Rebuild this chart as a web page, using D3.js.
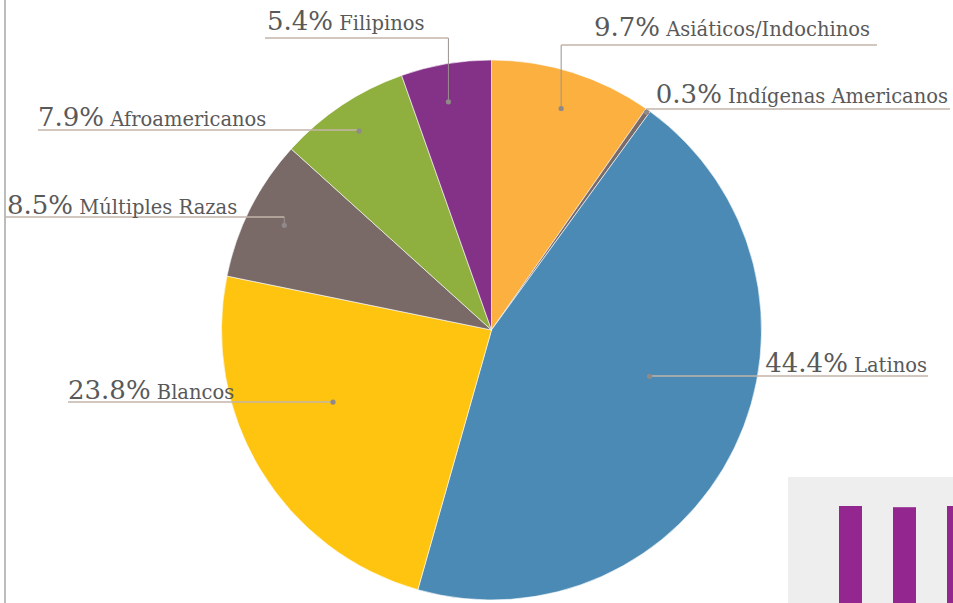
<!DOCTYPE html>
<html>
<head>
<meta charset="utf-8">
<script src="https://cdn.jsdelivr.net/npm/d3@7"></script>
<style>
  body { margin: 0; background: #fff; }
  svg { display: block; }
  .lbl { font-family: "DejaVu Serif", serif; fill: #595959; }
</style>
</head>
<body>
<svg id="pie"></svg>
<script>
// slice data, clockwise from 12 o'clock
var categories = ["Asiáticos/Indochinos", "Indígenas Americanos", "Latinos", "Blancos",
                  "Múltiples Razas", "Afroamericanos", "Filipinos"];
var shares = [9.7, 0.3, 44.4, 23.8, 8.5, 7.9, 5.4];
var sliceColors = ["#fbb040", "#7b6b68", "#4a8ab4", "#ffc40f", "#796a68", "#8faf3e", "#843188"];

// neighbouring chart peeking in at the bottom right
var sideBars = [33.5, 33.2, 33.5];

// label placement: where on the slice the dot sits, where the leader ends
var labelLayout = [
  { t: 0.5,  r: 0.86, lineY: 45,  endX: 877, anchor: "end",   textX: 870, gap: 9 },
  { t: 0.5,  r: 0.99, lineY: 109, endX: 950, anchor: "end",   textX: 948, gap: 6 },
  { t: 0.44, r: 0.61, lineY: 376, endX: 928, anchor: "end",   textX: 927, gap: 4 },
  { t: 0.58, r: 0.645, lineY: 402, endX: 68, anchor: "start", textX: 68,  gap: 3 },
  { t: 0.5,  r: 0.86, lineY: 217, endX: 5,   anchor: "start", textX: 7,   gap: 3 },
  { t: 0.5,  r: 0.885, lineY: 130, endX: 38, anchor: "start", textX: 38,  gap: 4 },
  { t: 0.45, r: 0.86, lineY: 38,  endX: 265, anchor: "start", textX: 267, gap: 8 }
];

var width = 953, height = 603;
var cx = 491.5, cy = 330, radius = 270;

var svg = d3.select("#pie")
            .attr("width", width)
            .attr("height", height);

// left border rule
svg.append("line")
    .attr("x1", 5).attr("x2", 5)
    .attr("y1", 0).attr("y2", height)
    .attr("stroke", "#a6a6a6")
    .attr("stroke-width", 1.5);

// side chart fragment
var side = svg.append("g");
side.append("rect")
    .attr("x", 788).attr("y", 477)
    .attr("width", width - 788).attr("height", height - 477)
    .attr("fill", "#eeeeee");

var sideX = d3.scaleLinear().domain([0, 1]).range([839, 893]);
var sideY = d3.scaleLinear().domain([0, 40]).range([640, 480]);

side.selectAll(".side-bar")
  .data(sideBars)
  .enter()
  .append("rect")
    .classed("side-bar", true)
    .attr("x", (d, i) => sideX(i))
    .attr("y", d => sideY(d))
    .attr("width", 23)
    .attr("height", d => sideY(0) - sideY(d))
    .attr("fill", "#93278f");

// pie
var pieData = categories.map((c, i) => ({ name: c, value: shares[i], color: sliceColors[i] }));

var arcs = d3.pie()
             .sort(null)
             .value(d => d.value)(pieData);

var path = d3.arc()
             .outerRadius(radius)
             .innerRadius(0);

var chart = svg.append("g")
               .attr("transform", "translate(" + cx + "," + cy + ")");

chart.selectAll(".arc")
  .data(arcs)
  .enter()
  .append("path")
    .classed("arc", true)
    .attr("d", path)
    .attr("fill", d => d.data.color)
    .attr("stroke", "#ffffff")
    .attr("stroke-width", 0.6);

// leaders and labels
var fmt = d3.format(".1f");

arcs.forEach(function(a, i) {
  var lay = labelLayout[i];
  var ang = a.startAngle + (a.endAngle - a.startAngle) * lay.t;
  var dx = cx + Math.sin(ang) * radius * lay.r;
  var dy = cy - Math.cos(ang) * radius * lay.r;

  svg.append("path")
      .attr("d", "M" + dx + "," + dy + "L" + dx + "," + lay.lineY)
      .attr("stroke", "#9a928e")
      .attr("stroke-width", 1)
      .attr("fill", "none");

  svg.append("line")
      .attr("x1", dx).attr("x2", lay.endX)
      .attr("y1", lay.lineY).attr("y2", lay.lineY)
      .attr("stroke", "#c3b4aa")
      .attr("stroke-width", 1.5);

  svg.append("circle")
      .attr("cx", dx).attr("cy", dy)
      .attr("r", 2.6)
      .attr("fill", "#8f8a88");

  var txt = svg.append("text")
      .classed("lbl", true)
      .attr("x", lay.textX)
      .attr("y", lay.lineY - lay.gap)
      .attr("text-anchor", lay.anchor);

  txt.append("tspan")
      .attr("font-size", "26px")
      .text(fmt(a.data.value) + "%");

  txt.append("tspan")
      .attr("font-size", "19.5px")
      .text(" " + a.data.name);
});
</script>
</body>
</html>
